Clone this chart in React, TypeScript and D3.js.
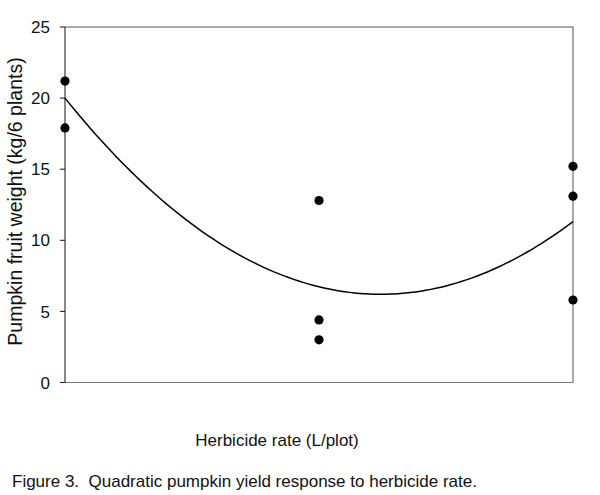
import React from "react";
import * as d3 from "d3";

const rates = [0, 0, 1, 1, 1, 2, 2, 2];
const weights = [21.2, 17.9, 12.8, 4.4, 3.0, 15.2, 13.1, 5.8];
const curveCoef = [20.0, -22.2, 8.93];
const yTicks = [0, 5, 10, 15, 20, 25];

const W = 600, H = 495;
const left = 65, right = 573, top = 27, bottom = 382.5;

export default function App() {
  const x = d3.scaleLinear().domain([0, 2]).range([left, right]);
  const y = d3.scaleLinear().domain([0, 25]).range([bottom, top]);
  const xs = d3.range(0, 2.0001, 0.02);
  const line = d3.line<number>()
    .x((d) => x(d))
    .y((d) => y(curveCoef[0] + curveCoef[1] * d + curveCoef[2] * d * d));
  const font = "'Liberation Sans', Arial, sans-serif";
  return (
    <svg width={W} height={H} style={{ position: "absolute", left: 0, top: 0, background: "#fff" }}
      fontFamily={font}>
      <rect x={0} y={0} width={W} height={H} fill="#fff" />
      <line x1={left} x2={right} y1={top} y2={top} stroke="#555" strokeWidth={1} />
      <line x1={right} x2={right} y1={top} y2={bottom} stroke="#555" strokeWidth={1} />
      <line x1={left} x2={right} y1={bottom} y2={bottom} stroke="#777" strokeWidth={1.2} />
      <line x1={left} x2={left} y1={top} y2={bottom} stroke="#111" strokeWidth={1} />
      {yTicks.map((t) => (
        <g key={t}>
          <line x1={left - 5} x2={left} y1={y(t)} y2={y(t)} stroke="#111" />
          <text x={50} y={y(t)} dy="0.36em" textAnchor="end" fontSize={17} fill="#111">{t}</text>
        </g>
      ))}
      <path d={line(xs) || ""} fill="none" stroke="#000" strokeWidth={1.5} />
      {rates.map((r, i) => (
        <circle key={i} cx={x(r)} cy={y(weights[i])} r={4.6} fill="#000" />
      ))}
      <text transform={`translate(22,201.5) rotate(-90)`} textAnchor="middle" fontSize={19.5} fill="#111">
        Pumpkin fruit weight (kg/6 plants)
      </text>
      <text x={277} y={446} textAnchor="middle" fontSize={17} fill="#111">Herbicide rate (L/plot)</text>
      <text x={12} y={487} fontSize={17} fill="#111" style={{ whiteSpace: "pre" }}>
        Figure 3.  Quadratic pumpkin yield response to herbicide rate.
      </text>
    </svg>
  );
}
